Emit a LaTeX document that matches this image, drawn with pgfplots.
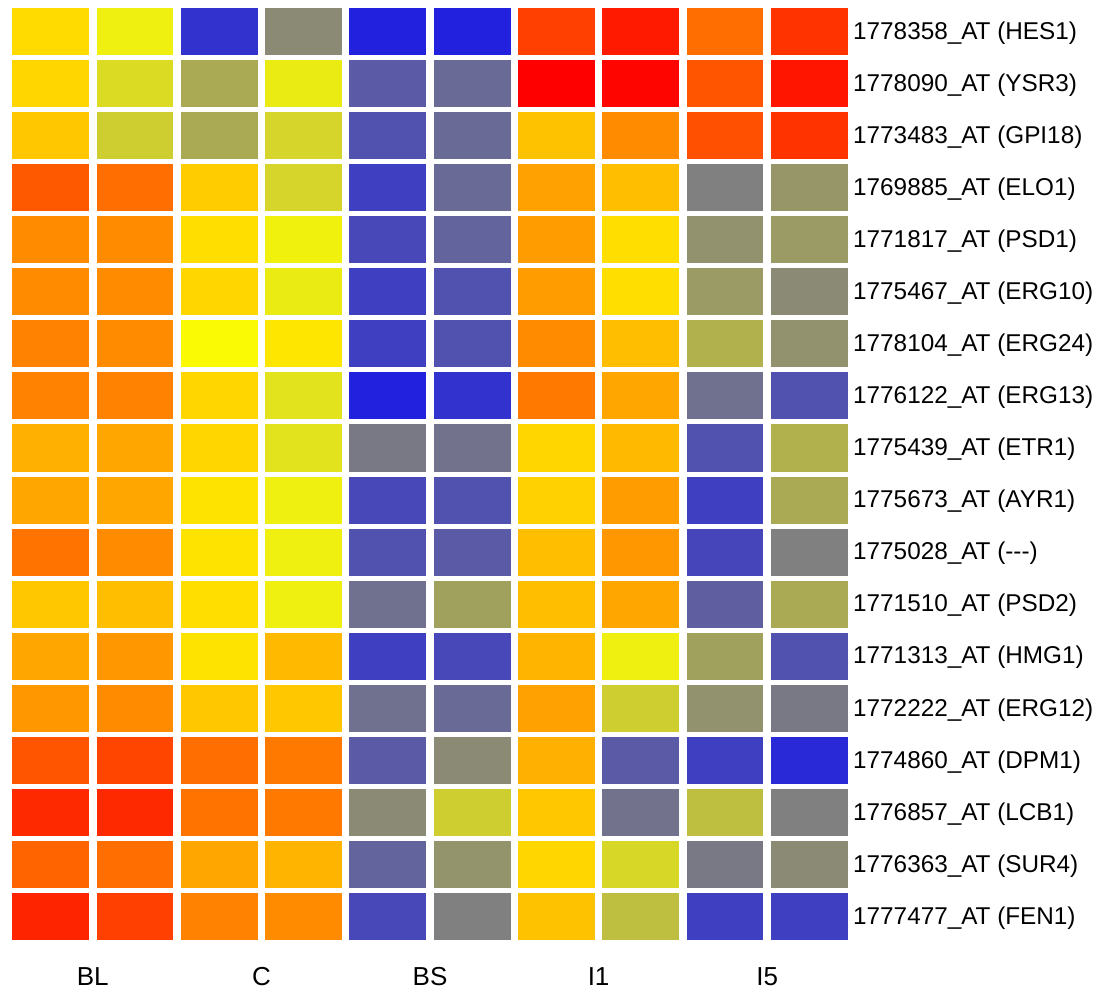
\documentclass[border=0pt]{standalone}
\usepackage{pgfplots}
\pgfplotsset{compat=1.18}
\usepackage{pgfplotstable}
\usepackage{fontspec}
\setmainfont{Liberation Sans}
\pgfplotstableread{
x y c
0 0 1.14
1 0 0.93
2 0 0.08
3 0 0.48
4 0 0.01
5 0 0.01
6 0 1.75
7 0 1.90
8 0 1.57
9 0 1.80
0 1 1.16
1 1 0.84
2 1 0.62
3 1 0.91
4 1 0.26
5 1 0.33
6 1 2.00
7 1 1.98
8 1 1.67
9 1 1.92
0 2 1.22
1 2 0.78
2 2 0.62
3 2 0.81
4 2 0.22
5 2 0.33
6 2 1.24
7 2 1.45
8 2 1.69
9 2 1.80
0 3 1.65
1 3 1.57
2 3 1.20
3 3 0.81
4 3 0.14
5 3 0.33
6 3 1.37
7 3 1.25
8 3 0.43
9 3 0.53
0 4 1.45
1 4 1.45
2 4 1.13
3 4 0.94
4 4 0.18
5 4 0.30
6 4 1.39
7 4 1.13
8 4 0.51
9 4 0.55
0 5 1.45
1 5 1.45
2 5 1.16
3 5 0.91
4 5 0.14
5 5 0.22
6 5 1.39
7 5 1.13
8 5 0.55
9 5 0.48
0 6 1.49
1 6 1.45
2 6 0.98
3 6 1.10
4 6 0.14
5 6 0.22
6 6 1.45
7 6 1.25
8 6 0.65
9 6 0.51
0 7 1.49
1 7 1.49
2 7 1.16
3 7 0.87
4 7 0.01
5 7 0.08
6 7 1.53
7 7 1.35
8 7 0.36
9 7 0.22
0 8 1.31
1 8 1.35
2 8 1.16
3 8 0.87
4 8 0.40
5 8 0.37
6 8 1.16
7 8 1.27
8 8 0.22
9 8 0.65
0 9 1.35
1 9 1.35
2 9 1.11
3 9 0.93
4 9 0.18
5 9 0.22
6 9 1.18
7 9 1.39
8 9 0.14
9 9 0.62
0 10 1.55
1 10 1.45
2 10 1.11
3 10 0.93
4 10 0.22
5 10 0.26
6 10 1.25
7 10 1.41
8 10 0.17
9 10 0.43
0 11 1.22
1 11 1.25
2 11 1.13
3 11 0.93
4 11 0.36
5 11 0.58
6 11 1.25
7 11 1.35
8 11 0.28
9 11 0.62
0 12 1.35
1 12 1.41
2 12 1.11
3 12 1.27
4 12 0.14
5 12 0.18
6 12 1.29
7 12 0.93
8 12 0.58
9 12 0.22
0 13 1.41
1 13 1.45
2 13 1.22
3 13 1.22
4 13 0.36
5 13 0.33
6 13 1.37
7 13 0.78
8 13 0.51
9 13 0.40
0 14 1.67
1 14 1.73
2 14 1.57
3 14 1.53
4 14 0.26
5 14 0.48
6 14 1.31
7 14 0.26
8 14 0.14
9 14 0.04
0 15 1.84
1 15 1.84
2 15 1.55
3 15 1.53
4 15 0.48
5 15 0.78
6 15 1.22
7 15 0.37
8 15 0.71
9 15 0.43
0 16 1.61
1 16 1.57
2 16 1.35
3 16 1.29
4 16 0.30
5 16 0.52
6 16 1.16
7 16 0.82
8 16 0.40
9 16 0.48
0 17 1.86
1 17 1.75
2 17 1.49
3 17 1.45
4 17 0.18
5 17 0.43
6 17 1.24
7 17 0.71
8 17 0.14
9 17 0.14
}\heatdata
\begin{document}
\begin{tikzpicture}
\useasboundingbox (0pt,0pt) rectangle (1097pt,989pt);
\begin{axis}[
  at={(8.5pt,46.5pt)}, anchor=south west,
  scale only axis, width=843pt, height=937pt,
  xmin=-0.5, xmax=9.5, ymin=-0.5, ymax=17.5,
  y dir=reverse,
  colormap={hm}{rgb255(0)=(32,32,224) rgb255(1)=(255,255,0) rgb255(2)=(255,0,0)},
  point meta min=0, point meta max=2,
  axis line style={draw=none},
  major tick length=0pt, minor tick length=0pt,
  axis on top,
  minor xtick={-0.5,0.5,...,9.5},
  minor ytick={-0.5,0.5,...,17.5},
  xminorgrids, yminorgrids,
  minor x grid style={white, line width=7.5pt},
  minor y grid style={white, line width=5pt},
  xtick={0.5,2.5,4.5,6.5,8.5},
  xticklabels={BL,C,BS,I1,I5},
  xticklabel style={anchor=center, inner sep=0pt, yshift=-34pt, font=\fontsize{26}{30}\selectfont},
  ytick={0,...,17},
  yticklabels={{1778358\_AT (HES1)},{1778090\_AT (YSR3)},{1773483\_AT (GPI18)},{1769885\_AT (ELO1)},{1771817\_AT (PSD1)},{1775467\_AT (ERG10)},{1778104\_AT (ERG24)},{1776122\_AT (ERG13)},{1775439\_AT (ETR1)},{1775673\_AT (AYR1)},{1775028\_AT (-{}-{}-)},{1771510\_AT (PSD2)},{1771313\_AT (HMG1)},{1772222\_AT (ERG12)},{1774860\_AT (DPM1)},{1776857\_AT (LCB1)},{1776363\_AT (SUR4)},{1777477\_AT (FEN1)}},
  yticklabel pos=right,
  yticklabel style={anchor=west, inner sep=0pt, xshift=1.5pt, yshift=-1.5pt, font=\fontsize{24.3}{28}\selectfont},
]
\addplot[matrix plot*, mesh/cols=10, point meta=explicit] table[x=x, y=y, meta=c] {\heatdata};
\end{axis}
\end{tikzpicture}
\end{document}
